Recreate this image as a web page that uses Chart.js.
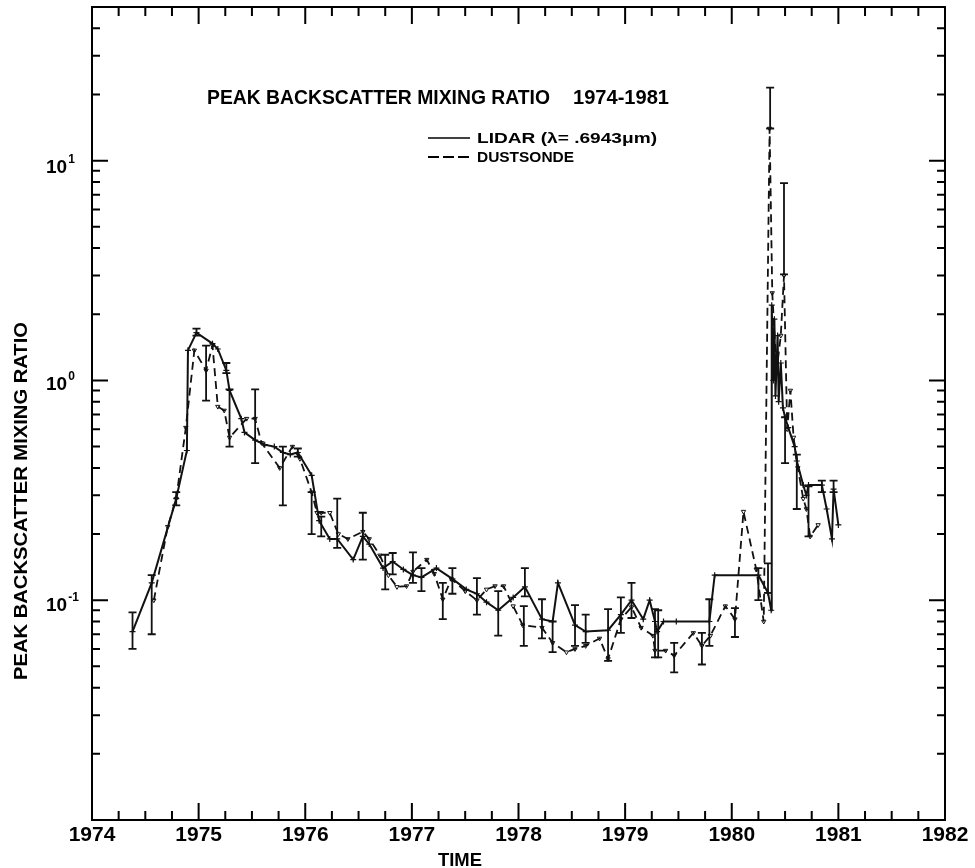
<!DOCTYPE html>
<html>
<head>
<meta charset="utf-8">
<script src="https://cdn.jsdelivr.net/npm/chart.js@4.4.1/dist/chart.umd.min.js"></script>
<style>
html,body{margin:0;padding:0;background:#fff;}
canvas{display:block;}
</style>
</head>
<body>
<canvas id="c" width="975" height="868"></canvas>
<script>
// ---------------- DATA ----------------
const lidarYears = [1974.38,1974.56,1974.79,1974.89,1974.90,1974.98,1975.13,1975.18,1975.26,1975.29,
  1975.40,1975.43,1975.53,1975.62,1975.71,1975.79,1975.86,1975.93,1976.06,1976.13,
  1976.23,1976.30,1976.45,1976.54,1976.60,1976.73,1976.82,1976.92,1977.01,1977.09,
  1977.23,1977.38,1977.51,1977.61,1977.70,1977.81,1977.95,1978.06,1978.22,1978.32,
  1978.37,1978.53,1978.63,1978.84,1978.96,1979.06,1979.17,1979.23,1979.28,1979.30,
  1979.36,1979.48,1979.79,1979.84,1980.25,1980.34,1980.37,1980.375,1980.39,1980.40,
  1980.41,1980.43,1980.44,1980.46,1980.48,1980.50,1980.53,1980.59,1980.61,1980.67,
  1980.70,1980.72,1980.845,1980.89,1980.94,1980.955,1981.00];
const lidarValues = [0.072,0.12,0.29,0.48,1.37,1.65,1.47,1.39,1.11,0.90,
  0.67,0.58,0.535,0.51,0.50,0.47,0.46,0.47,0.37,0.23,
  0.19,0.19,0.153,0.195,0.18,0.14,0.15,0.138,0.13,0.127,
  0.14,0.125,0.112,0.107,0.098,0.09,0.103,0.115,0.082,0.08,
  0.12,0.077,0.072,0.073,0.086,0.10,0.082,0.10,0.08,0.072,
  0.08,0.08,0.08,0.13,0.13,0.108,0.09,2.2,1.0,1.9,
  0.85,1.6,0.8,1.2,0.75,0.68,0.61,0.50,0.43,0.334,
  0.30,0.334,0.334,0.26,0.19,0.32,0.22];

const dustYears = [1974.58,1974.71,1974.79,1974.88,1974.96,1975.07,1975.13,1975.18,1975.24,1975.29,
  1975.45,1975.53,1975.59,1975.76,1975.88,1975.95,1976.06,1976.11,1976.15,1976.23,
  1976.31,1976.40,1976.54,1976.60,1976.70,1976.78,1976.86,1976.95,1977.01,1977.14,
  1977.21,1977.29,1977.37,1977.50,1977.61,1977.70,1977.78,1977.86,1977.95,1978.04,
  1978.22,1978.32,1978.45,1978.53,1978.63,1978.76,1978.84,1978.96,1979.06,1979.15,
  1979.26,1979.28,1979.38,1979.46,1979.64,1979.72,1979.80,1979.94,1980.03,1980.11,
  1980.23,1980.30,1980.355,1980.38,1980.42,1980.46,1980.49,1980.52,1980.55,1980.58,
  1980.62,1980.67,1980.70,1980.735,1980.81];
const dustValues = [0.10,0.216,0.29,0.61,1.37,1.11,1.44,0.76,0.73,0.55,
  0.67,0.67,0.52,0.40,0.50,0.44,0.31,0.25,0.25,0.25,
  0.20,0.19,0.205,0.19,0.16,0.13,0.115,0.116,0.135,0.153,
  0.132,0.101,0.125,0.11,0.10,0.112,0.116,0.116,0.094,0.077,
  0.075,0.064,0.058,0.06,0.062,0.067,0.054,0.082,0.093,0.075,
  0.069,0.059,0.059,0.056,0.071,0.062,0.069,0.094,0.082,0.253,
  0.138,0.08,14,2.5,1.1,1.6,3.0,0.6,0.9,0.55,
  0.40,0.29,0.26,0.195,0.22];

const errYears = [1974.38,1974.56,1974.79,1974.98,1975.07,1975.26,1975.29,1975.53,1975.79,1975.93,
  1976.06,1976.15,1976.30,1976.54,1976.75,1976.82,1977.01,1977.09,1977.29,1977.38,
  1977.61,1977.81,1978.06,1978.05,1978.22,1978.32,1978.53,1978.63,1978.84,1978.96,
  1979.06,1979.28,1979.31,1979.46,1979.72,1979.79,1980.03,1980.25,1980.34,1980.36,
  1980.49,1980.50,1980.61,1980.72,1980.845,1980.955];
const errLow = [0.060,0.070,0.27,1.6,0.81,1.08,0.50,0.42,0.27,0.45,
  0.20,0.195,0.173,0.153,0.112,0.131,0.12,0.11,0.082,0.107,
  0.086,0.069,0.104,0.062,0.067,0.058,0.062,0.064,0.053,0.071,
  0.083,0.055,0.055,0.047,0.051,0.062,0.068,0.10,0.108,14,
  3.04,0.42,0.26,0.195,0.31,0.31];
const errHigh = [0.088,0.13,0.31,1.72,1.44,1.2,0.91,0.91,0.50,0.49,
  0.31,0.24,0.29,0.25,0.161,0.164,0.165,0.14,0.12,0.14,
  0.126,0.11,0.14,0.094,0.101,0.08,0.095,0.086,0.091,0.103,
  0.12,0.091,0.09,0.064,0.071,0.101,0.092,0.14,0.147,21.5,
  7.9,0.68,0.46,0.33,0.35,0.35];

const xTickYears = [1974,1975,1976,1977,1978,1979,1980,1981,1982];
const yTickValues = [0.1,1,10];
const yTickBase = ['10','10','10'];
const yTickExp = ['-1','0','1'];
const chartTitle = 'PEAK BACKSCATTER MIXING RATIO';
const chartTitleYears = '1974-1981';
const legendLabels = ['LIDAR (\u03BB= .6943\u03BCm)', 'DUSTSONDE'];
const yAxisTitle = 'PEAK BACKSCATTER MIXING RATIO';
const xAxisTitle = 'TIME';

// ---------------- RENDER ----------------
const FONT = '"Liberation Sans", Arial, sans-serif';
Chart.defaults.font.family = FONT;
Chart.defaults.color = '#000';
const INK = '#111';

function fitText(ctx, text, x, y, w, align) {
  const m = ctx.measureText(text).width;
  const s = w / m;
  ctx.save();
  ctx.translate(x, y);
  ctx.scale(s, 1);
  ctx.textAlign = 'left';
  const x0 = align === 'center' ? -m / 2 : (align === 'right' ? -m : 0);
  ctx.fillText(text, x0, 0);
  ctx.restore();
}

const decorPlugin = {
  id: 'decor',
  afterDatasetsDraw(chart) {
    const {ctx, scales: {x, y}} = chart;
    ctx.save();
    ctx.strokeStyle = INK;
    ctx.lineWidth = 1.8;
    for (let i = 0; i < errYears.length; i++) {
      const px = x.getPixelForValue(errYears[i]);
      const p1 = y.getPixelForValue(errLow[i]);
      const p2 = y.getPixelForValue(errHigh[i]);
      ctx.beginPath();
      ctx.moveTo(px, p1); ctx.lineTo(px, p2);
      ctx.moveTo(px - 4, p1); ctx.lineTo(px + 4, p1);
      ctx.moveTo(px - 4, p2); ctx.lineTo(px + 4, p2);
      ctx.stroke();
    }
    ctx.restore();
  },
  afterDraw(chart) {
    const {ctx, chartArea: a, scales: {x, y}} = chart;
    ctx.save();
    ctx.strokeStyle = '#000';
    ctx.lineWidth = 2;
    ctx.strokeRect(a.left, a.top, a.right - a.left, a.bottom - a.top);
    ctx.beginPath();
    for (let q = x.min * 4; q <= x.max * 4; q++) {
      const px = x.getPixelForValue(q / 4);
      const L = (q % 4 === 0) ? 17 : 9;
      ctx.moveTo(px, a.bottom); ctx.lineTo(px, a.bottom - L);
      ctx.moveTo(px, a.top); ctx.lineTo(px, a.top + L);
    }
    for (let e = -2; e <= 1; e++) {
      for (let m = 1; m <= 9; m++) {
        const v = m * Math.pow(10, e);
        if (v < y.min * 0.999 || v > y.max * 1.001) continue;
        const py = y.getPixelForValue(v);
        const L = (m === 1) ? 16 : 8;
        ctx.moveTo(a.left, py); ctx.lineTo(a.left + L, py);
        ctx.moveTo(a.right, py); ctx.lineTo(a.right - L, py);
      }
    }
    ctx.stroke();

    // y tick labels with superscripts
    ctx.fillStyle = '#000';
    ctx.textBaseline = 'alphabetic';
    const yOff = [11, 10, 12];
    for (let i = 0; i < yTickValues.length; i++) {
      const py = y.getPixelForValue(yTickValues[i]);
      ctx.font = 'bold 19px ' + FONT;
      ctx.textAlign = 'left';
      ctx.fillText(yTickBase[i], 46, py + yOff[i]);
      const w = ctx.measureText(yTickBase[i]).width;
      ctx.font = 'bold 12px ' + FONT;
      ctx.fillText(yTickExp[i], 46 + w + 1, py + yOff[i] - 10);
    }

    // chart title
    ctx.font = 'bold 20px ' + FONT;
    fitText(ctx, chartTitle, 207, 104, 343, 'left');
    fitText(ctx, chartTitleYears, 669, 104, 96, 'right');

    // legend
    ctx.lineWidth = 1.5;
    ctx.beginPath();
    ctx.moveTo(428, 138); ctx.lineTo(470, 138);
    ctx.stroke();
    ctx.setLineDash([11, 4]);
    ctx.lineWidth = 2;
    ctx.beginPath();
    ctx.moveTo(428, 157); ctx.lineTo(470, 157);
    ctx.stroke();
    ctx.setLineDash([]);
    ctx.font = 'bold 15px ' + FONT;
    fitText(ctx, legendLabels[0], 477, 143, 180, 'left');
    fitText(ctx, legendLabels[1], 477, 162, 97, 'left');

    // axis titles
    ctx.font = 'bold 18px ' + FONT;
    fitText(ctx, xAxisTitle, 460, 866, 44, 'center');
    ctx.save();
    ctx.translate(27, 501);
    ctx.rotate(-Math.PI / 2);
    ctx.font = 'bold 18px ' + FONT;
    fitText(ctx, yAxisTitle, 0, 0, 358, 'center');
    ctx.restore();
    ctx.restore();
  }
};

new Chart(document.getElementById('c'), {
  type: 'line',
  data: {
    datasets: [
      {
        label: legendLabels[0],
        data: lidarYears.map((v, i) => ({x: v, y: lidarValues[i]})),
        borderColor: INK, borderWidth: 2, tension: 0, fill: false,
        pointStyle: 'cross', pointRadius: 3, pointBorderWidth: 1.2,
        pointBorderColor: INK, pointBackgroundColor: INK
      },
      {
        label: legendLabels[1],
        data: dustYears.map((v, i) => ({x: v, y: dustValues[i]})),
        borderColor: INK, borderWidth: 1.8, borderDash: [8, 5], tension: 0, fill: false,
        pointStyle: 'triangle', rotation: 180, pointRadius: 2.5, pointBorderWidth: 1,
        pointBorderColor: INK, pointBackgroundColor: 'rgba(0,0,0,0)'
      }
    ]
  },
  options: {
    responsive: false,
    animation: false,
    devicePixelRatio: 1,
    layout: {padding: {top: 7, right: 30, bottom: 0, left: 0}},
    plugins: {legend: {display: false}, tooltip: {enabled: false}, title: {display: false}},
    scales: {
      x: {
        type: 'linear', min: 1974, max: 1982,
        grid: {display: false, drawTicks: false},
        border: {display: false},
        afterBuildTicks: s => { s.ticks = xTickYears.map(v => ({value: v})); },
        ticks: {font: {size: 21, weight: 'bold'}, color: '#000', padding: 3,
                maxRotation: 0, autoSkip: false, callback: v => String(v)},
        afterFit: s => { s.height = 48; }
      },
      y: {
        type: 'logarithmic', min: 0.01, max: 50,
        grid: {display: false, drawTicks: false},
        border: {display: false},
        afterBuildTicks: s => { s.ticks = yTickValues.map(v => ({value: v})); },
        ticks: {display: false},
        afterFit: s => { s.width = 92; }
      }
    }
  },
  plugins: [decorPlugin]
});
</script>
</body>
</html>
